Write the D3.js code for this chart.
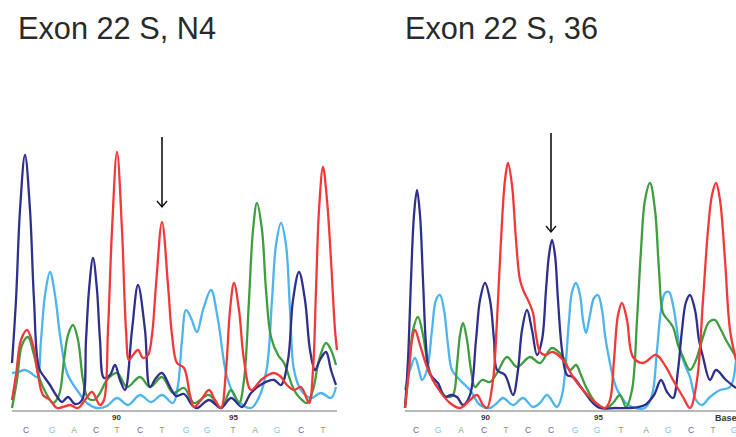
<!DOCTYPE html>
<html><head><meta charset="utf-8">
<script src="https://cdn.jsdelivr.net/npm/d3@7"></script>
<style>html,body{margin:0;padding:0;background:#fff;}svg{display:block;}</style>
</head><body>
<svg id="chart" width="736" height="437"></svg>
<script>
// ---- Data: chromatogram traces as [scan, intensity] ----
const titles = ["Exon 22 S, N4", "Exon 22 S, 36"];

// Left panel (N4)
const leftC = [[0,47],[4,110],[8,200],[13,255],[18,200],[22,110],[27,42],[33,32],[38,25],[44,15],[50,8],[56,13],[63,6],[70,10],[74,70],[77,120],[81,152],[85,120],[88,70],[92,32],[98,35],[103,45],[108,30],[113,20],[120,80],[126,125],[133,80],[138,23],[144,32],[150,37],[158,23],[164,14],[172,16],[180,5],[185,2],[197,10],[209,2],[219,12],[230,3],[239,17],[250,26],[262,30],[269,25],[276,50],[281,110],[287,138],[293,110],[298,60],[303,40],[308,50],[314,58],[319,40],[324,25]];
const leftT = [[0,10],[4,35],[9,70],[15,80],[21,65],[26,35],[31,15],[38,10],[45,2],[58,5],[66,2],[73,10],[80,18],[88,5],[92,10],[96,80],[100,180],[105,258],[110,180],[114,80],[117,50],[121,55],[126,60],[131,52],[136,55],[140,75],[144,125],[150,188],[156,125],[160,75],[165,47],[172,42],[178,15],[182,3],[189,10],[197,20],[203,10],[209,2],[214,40],[218,100],[222,127],[227,100],[232,50],[239,20],[249,30],[256,35],[262,37],[268,34],[275,25],[282,20],[289,23],[297,7],[301,40],[304,120],[307,200],[311,243],[315,210],[319,150],[323,80],[325,60]];
const leftA = [[0,2],[5,30],[10,65],[16,73],[22,55],[28,30],[35,15],[41,7],[47,15],[52,50],[56,75],[61,85],[66,70],[71,30],[76,12],[82,10],[88,17],[95,30],[105,37],[115,23],[128,33],[138,23],[150,33],[161,17],[172,22],[182,7],[197,15],[209,2],[219,20],[227,7],[232,30],[237,110],[241,180],[245,207],[250,180],[254,120],[259,73],[266,55],[272,47],[282,20],[288,12],[295,7],[301,20],[307,50],[314,67],[319,60],[324,45]];
const leftG = [[0,37],[6,38],[13,40],[19,37],[25,33],[29,70],[33,115],[38,138],[43,115],[48,75],[55,37],[65,20],[75,7],[85,2],[95,4],[105,12],[116,5],[128,15],[139,8],[150,15],[161,7],[166,25],[170,70],[174,100],[179,92],[185,78],[191,100],[199,120],[206,90],[215,33],[225,10],[239,2],[248,15],[255,43],[260,110],[264,165],[269,187],[274,165],[278,100],[282,40],[289,20],[299,12],[309,17],[319,12],[324,23]];
const leftBases = ["C","G","A","C","T","C","T","G","G","T","A","G","C","T"];
const leftBaseScans = [14,40,62,84,105,128,150,174,195,221,243,265,289,311];
const leftTickScans = [104,221];
const leftTickLabels = ["90","95"];

// Right panel (36)
const rightC = [[0,2],[3,50],[6,130],[9,195],[12,220],[15,195],[18,130],[21,65],[24,38],[28,32],[33,27],[40,13],[46,15],[52,13],[58,5],[65,15],[71,70],[75,110],[80,127],[85,110],[89,70],[92,40],[100,35],[108,15],[113,40],[117,80],[122,100],[127,80],[132,55],[137,70],[141,120],[144,155],[147,170],[150,155],[153,110],[157,60],[162,35],[168,33],[178,20],[187,8],[195,2],[210,2],[225,2],[240,5],[249,15],[256,30],[262,18],[268,12],[273,40],[277,80],[281,108],[285,115],[290,100],[294,70],[298,53],[305,30],[311,40],[321,30],[331,22]];
const rightT = [[0,2],[4,40],[7,70],[10,80],[15,65],[22,43],[32,23],[45,7],[55,2],[65,10],[72,15],[78,5],[82,2],[88,30],[92,90],[96,170],[100,230],[103,247],[107,225],[111,170],[115,130],[119,118],[123,110],[128,97],[131,75],[135,58],[140,55],[148,58],[158,50],[168,33],[178,20],[191,7],[200,2],[205,10],[209,50],[213,95],[217,107],[222,90],[228,53],[238,47],[251,55],[261,43],[268,30],[278,13],[285,2],[292,30],[298,110],[303,180],[307,215],[311,227],[315,210],[320,150],[325,80],[331,50]];
const rightA = [[0,2],[4,40],[8,80],[13,93],[18,75],[23,45],[28,30],[35,20],[42,13],[48,15],[52,45],[55,75],[58,87],[62,70],[66,40],[70,23],[77,30],[85,28],[92,37],[102,53],[112,43],[125,53],[135,47],[147,62],[158,53],[165,40],[171,45],[176,35],[181,23],[191,7],[201,2],[208,7],[215,15],[221,3],[227,20],[232,90],[236,160],[240,210],[245,227],[250,200],[254,140],[258,97],[263,90],[268,83],[273,65],[278,53],[285,40],[291,50],[298,73],[304,88],[310,90],[315,82],[321,70],[331,53]];
const rightG = [[0,20],[5,40],[10,52],[14,40],[17,30],[22,40],[27,80],[31,110],[35,115],[39,100],[43,65],[47,40],[55,30],[65,20],[75,5],[85,2],[92,7],[98,12],[108,5],[118,12],[128,3],[135,7],[142,15],[152,3],[157,15],[160,37],[164,90],[167,118],[171,127],[175,115],[178,90],[181,77],[185,95],[189,112],[193,115],[197,100],[200,75],[203,57],[211,23],[221,7],[230,2],[240,2],[247,15],[252,60],[256,100],[260,117],[264,118],[268,105],[272,80],[275,60],[280,45],[285,33],[291,10],[297,5],[305,13],[315,20],[325,23],[331,50]];
const rightBases = ["C","G","A","C","T","C","C","G","G","T","A","G","C","T","G"];
const rightBaseScans = [11,33,56,79,101,123,146,170,192,216,241,263,286,308,329];
const rightTickScans = [80,193];
const rightTickLabels = ["90","95"];

// Arrows marking the variant position: [scan, top intensity, tip intensity]
const leftArrow = [150, 273, 203];
const rightArrow = [146, 277, 178];

// ---- Styles ----
const baseColor = {C:"#2f2f8c", G:"#4db4ec", A:"#3e9e3e", T:"#f23838"};

const svg = d3.select("#chart");
const y = d3.scaleLinear().domain([0, 260]).range([410, 150]);

const panels = [
  {title: titles[0], tx: 18, tw: 198, range:[12,337], domain:[0,325],
   traces:{G:leftG, A:leftA, C:leftC, T:leftT}, bases:leftBases, baseScans:leftBaseScans,
   ticks:leftTickScans, tickLabels:leftTickLabels, arrow:leftArrow, baseLabel:false},
  {title: titles[1], tx: 405, tw: 193, range:[405,736], domain:[0,331],
   traces:{G:rightG, A:rightA, C:rightC, T:rightT}, bases:rightBases, baseScans:rightBaseScans,
   ticks:rightTickScans, tickLabels:rightTickLabels, arrow:rightArrow, baseLabel:true}
];

const defs = svg.append("defs");

panels.forEach((p, i) => {
  const x = d3.scaleLinear().domain(p.domain).range(p.range);
  const g = svg.append("g");

  g.append("text").attr("x", p.tx).attr("y", 39)
    .attr("font-family", "Liberation Sans, Arial, sans-serif")
    .attr("font-size", 32).attr("fill", "#2a2a2a")
    .attr("textLength", p.tw).attr("lengthAdjust", "spacingAndGlyphs")
    .text(p.title);

  defs.append("clipPath").attr("id", "clip" + i)
    .append("rect").attr("x", p.range[0] - 2).attr("y", 100)
    .attr("width", p.range[1] - p.range[0] + 4).attr("height", 311.5);

  // baseline
  g.append("line").attr("x1", x(p.domain[0])).attr("x2", x(p.domain[1]))
    .attr("y1", y(0) + 1).attr("y2", y(0) + 1)
    .attr("stroke", "#a0a0a0").attr("stroke-width", 1.6);

  const line = d3.line().x(d => x(d[0])).y(d => y(d[1])).curve(d3.curveCatmullRom.alpha(0.5));
  const tg = g.append("g").attr("clip-path", `url(#clip${i})`);
  ["G", "A", "C", "T"].forEach(b => {
    tg.append("path").datum(p.traces[b]).attr("d", line)
      .attr("fill", "none").attr("stroke", baseColor[b])
      .attr("stroke-width", 2.3).attr("stroke-linejoin", "round");
  });

  // tick labels (base numbers)
  const axis = d3.axisBottom(x).tickValues(p.ticks)
    .tickFormat((d, k) => p.tickLabels[k]).tickSize(0).tickPadding(3);
  const ag = g.append("g").attr("transform", `translate(0,${y(0) + 1})`).call(axis);
  ag.select(".domain").remove();
  ag.selectAll("text").attr("font-family", "Liberation Sans, Arial, sans-serif")
    .attr("font-size", 8).attr("font-weight", "bold").attr("fill", "#333");

  if (p.baseLabel) {
    g.append("text").attr("x", x(310)).attr("y", 421)
      .attr("font-family", "Liberation Sans, Arial, sans-serif")
      .attr("font-size", 9).attr("font-weight", "bold").attr("fill", "#333").text("Base");
  }

  // base calls
  g.selectAll("text.base").data(p.bases).join("text").attr("class", "base")
    .attr("x", (d, k) => x(p.baseScans[k])).attr("y", 433)
    .attr("text-anchor", "middle")
    .attr("font-family", "Liberation Sans, Arial, sans-serif")
    .attr("font-size", 8.5).attr("fill", d => baseColor[d]).attr("opacity", 0.75)
    .text(d => d);

  // arrow
  const ax = x(p.arrow[0]), y1 = y(p.arrow[1]), y2 = y(p.arrow[2]);
  g.append("line").attr("x1", ax).attr("x2", ax).attr("y1", y1).attr("y2", y2)
    .attr("stroke", "#111").attr("stroke-width", 1.6);
  g.append("path").attr("d", `M${ax - 5},${y2 - 6}L${ax},${y2}L${ax + 5},${y2 - 6}`)
    .attr("fill", "none").attr("stroke", "#111").attr("stroke-width", 1.4);
});
</script>
</body></html>
